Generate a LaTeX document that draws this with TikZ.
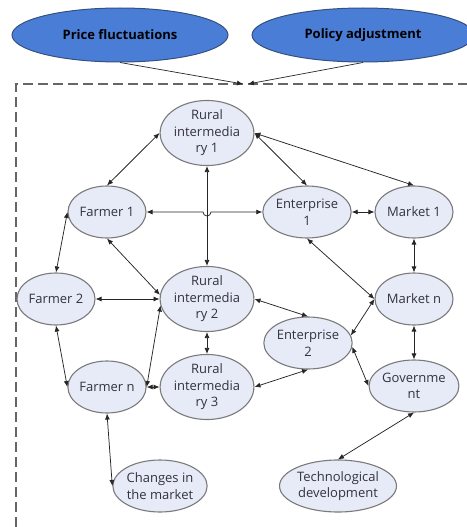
\documentclass[tikz,border=0pt]{standalone}
\usepackage{fontspec}
\setmainfont{Open Sans}
\usetikzlibrary{shapes.geometric,arrows.meta}
\definecolor{topfill}{HTML}{4A7ED6}
\definecolor{topdraw}{HTML}{34507F}
\definecolor{nfill}{HTML}{E7EBF7}
\definecolor{ndraw}{HTML}{7A7A7A}
\definecolor{ntext}{HTML}{33333F}
\tikzset{
  topell/.style={ellipse,draw=topdraw,fill=topfill,line width=1pt,minimum width=216pt,minimum height=54pt,inner sep=0pt,font=\fontsize{13}{15}\selectfont\bfseries,text=black},
  ell/.style={ellipse,draw=ndraw,fill=nfill,line width=1.1pt,minimum width=78pt,minimum height=52pt,inner sep=0pt,align=center,font=\fontsize{13}{16.5}\selectfont,text=ntext},
  conn/.style={{Latex[length=6pt,width=5pt]}-{Latex[length=6pt,width=5pt]},line width=0.75pt,draw=black!85},
  topconn/.style={-{Latex[length=6pt,width=5pt]},line width=0.7pt,draw=black!85},
  frame/.style={draw=black!60,line width=1.1pt,dash pattern=on 10pt off 5pt}
}
\begin{document}
\begin{tikzpicture}[x=1pt,y=-1pt]
\useasboundingbox (0,0) rectangle (466,527);
\node[topell] (price) at (120,35) {Price fluctuations};
\node[topell,minimum width=222pt] (policy) at (363,35) {Policy adjustment};
\coordinate (t1) at (243,84);
\coordinate (t2) at (248,84);
\draw[frame] (16,527) -- (16,84) -- (470,84);
\draw[topconn] (price.south) -- (t1);
\draw[topconn] (policy.south) -- (t2);

\node[ell] (ri1) at (207,133) {Rural\\intermedia\\ry 1};
\node[ell] (f1) at (107,212) {Farmer 1};
\node[ell] (e1) at (307,212) {Enterprise\\1};
\node[ell] (m1) at (414,212) {Market 1};
\node[ell] (f2) at (56,299) {Farmer 2};
\node[ell] (ri2) at (207,299) {Rural\\intermedia\\ry 2};
\node[ell] (mn) at (414,299) {Market n};
\node[ell] (e2) at (308,343) {Enterprise\\2};
\node[ell] (fn) at (107,387) {Farmer n};
\node[ell] (ri3) at (207,387) {Rural\\intermedia\\ry 3};
\node[ell] (gov) at (414,386) {Governme\\nt};
\node[ell,minimum width=80pt] (chg) at (160,486) {Changes in\\the market};
\node[ell,minimum width=117pt] (tech) at (338,486) {Technological\\development};

\draw[conn] (f1.north) -- (ri1.west);
\draw[conn] (ri1.east) -- (e1.north);
\draw[conn] (ri1.east) -- (m1.north);
\draw[conn] (ri1.south) -- (ri2.north);
\draw[conn] (f1.east) -- (203,212) arc[start angle=180,end angle=0,radius=4] -- (e1.west);
\draw[conn] (e1.east) -- (m1.west);
\draw[conn] (m1.south) -- (mn.north);
\draw[conn] (f1.west) -- (f2.north);
\draw[conn] (f1.south) -- (ri2.175);
\draw[conn] (f2.east) -- (ri2.west);
\draw[conn] (f2.south) -- (fn.west);
\draw[conn] (fn.east) -- (ri2.188);
\draw[conn] (fn.east) -- (ri3.west);
\draw[conn] (ri2.south) -- (ri3.north);
\draw[conn] (ri2.east) -- (e2.north);
\draw[conn] (ri3.east) -- (e2.south);
\draw[conn] (e1.south) -- (mn.west);
\draw[conn] (e2.10) -- (mn.west);
\draw[conn] (e2.-5) -- (gov.west);
\draw[conn] (mn.south) -- (gov.north);
\draw[conn] (gov.south) -- (tech.north);
\draw[conn] (fn.south) -- (chg.west);
\end{tikzpicture}
\end{document}
